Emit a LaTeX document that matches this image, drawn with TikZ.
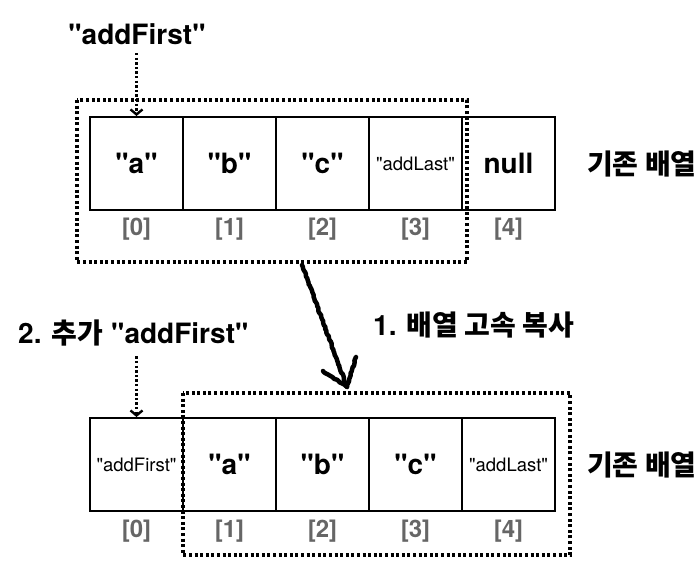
\documentclass[tikz,border=0pt]{standalone}
\usepackage{fontspec}
\setmainfont{TeX Gyre Heros}[Ligatures=TeXOff]
\newfontfamily\krfont{Noto Sans CJK KR}
\usetikzlibrary{arrows.meta, decorations.pathmorphing}
\definecolor{idxgray}{RGB}{102,102,102}

\tikzset{
  cell/.style={draw, line width=2pt, minimum size=93pt, inner sep=0pt,
    font=\bfseries\fontsize{28}{30}\selectfont},
  smallval/.style={font=\fontsize{18.5}{20}\selectfont},
  idx/.style={text=idxgray, font=\bfseries\fontsize{24}{26}\selectfont},
  dotframe/.style={line width=3.4pt, dash pattern=on 3pt off 2.6pt},
  hint/.style={line width=2.6pt, dash pattern=on 2.4pt off 2.2pt,
    -{Straight Barb[length=5pt, width=12pt, line width=2.4pt]}},
  tag/.style={inner sep=0pt, font=\bfseries\fontsize{28}{30}\selectfont},
  sketch/.style={line width=4.5pt, line cap=round, line join=round,
    decorate, decoration={random steps, segment length=2pt, amplitude=0.6pt}}
}

\begin{document}
\begin{tikzpicture}[x=1pt, y=-1pt]
    \pgfmathsetseed{7}
    \useasboundingbox (0,0) rectangle (700,567);

    % Existing array before the insert
    \foreach \val [count=\i from 0] in {"a", "b", "c"}
        \node[cell] (old\i) at (136.5+93*\i, 163.5) {\val};
    \node[cell, smallval] (old3) at (415.5, 163.5) {"addLast"};
    \node[cell] (old4) at (508.5, 163.5) {null};
    \foreach \i in {0,...,4}
        \node[idx] (oldidx\i) at (136.5+93*\i, 229) {[\i]};
    \node[tag, anchor=west] (oldtag) at (587, 163.5) {\krfont 기존 배열};

    % Range that gets copied
    \draw[dotframe] (77,100) rectangle (467,262);

    % Element that should go in front
    \node[font=\bfseries\fontsize{28}{30}\selectfont] (firstlbl) at (137, 34) {"addFirst"};
    \draw[hint, shorten <=5pt] (firstlbl.south -| old0.north) -- (old0.north);

    % Array after shifting everything one slot right
    \node[cell, smallval] (new0) at (136.5, 464.5) {"addFirst"};
    \foreach \val [count=\i from 1] in {"a", "b", "c"}
        \node[cell] (new\i) at (136.5+93*\i, 464.5) {\val};
    \node[cell, smallval] (new4) at (508.5, 464.5) {"addLast"};
    \foreach \i in {0,...,4}
        \node[idx] (newidx\i) at (136.5+93*\i, 531) {[\i]};
    \node[tag, anchor=west] (newtag) at (587, 464.5) {\krfont 기존 배열};

    \draw[dotframe] (183,393) rectangle (570,555);

    % Step labels
    \node[tag, anchor=west] (copylbl) at (373, 325) {1. {\krfont 배열 고속 복사}};
    \node[tag, anchor=west] (addlbl) at (18, 333) {2. {\krfont 추가} "addFirst"};
    \draw[hint, shorten <=10pt] (addlbl.south -| new0.north) -- (new0.north);

    % Hand drawn copy arrow
    \coordinate (copyfrom) at (302,265);
    \coordinate (copyto) at (347,387);
    \coordinate (barbL) at (323,371);
    \coordinate (barbR) at (356,357);
    \draw[sketch] (copyfrom) -- (copyto);
    \draw[sketch] (barbL) -- (copyto) -- (barbR);

\end{tikzpicture}
\end{document}
